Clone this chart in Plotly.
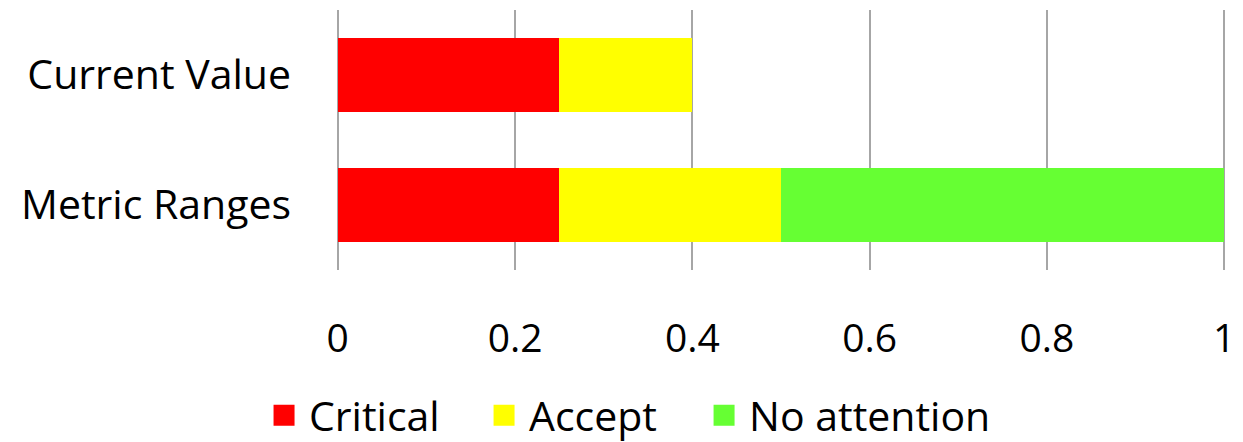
import plotly.graph_objects as go

categories = ["Metric Ranges", "Current Value"]
critical = [0.25, 0.25]
accept = [0.25, 0.15]
no_attention = [0.5, 0]
series_names = ["Critical", "Accept", "No attention"]
colors = ["#FF0000", "#FFFF00", "#66FF33"]
x_ticks = [0, 0.2, 0.4, 0.6, 0.8, 1]
x_tick_labels = ["0", "0.2", "0.4", "0.6", "0.8", "1"]

FONT = "Open Sans, DejaVu Sans, sans-serif"
legend_ids = ["legend", "legend2", "legend3"]
legend_x = [0.2084, 0.3854, 0.5624]

fig = go.Figure()
for name, vals, col, lid in zip(series_names, [critical, accept, no_attention], colors, legend_ids):
    fig.add_trace(go.Bar(y=categories, x=vals, name=name, orientation="h",
                         marker=dict(color=col, line=dict(width=0)),
                         showlegend=False))
    # legend entry with a larger square symbol
    fig.add_trace(go.Scatter(x=[None], y=[None], mode="markers", name=name,
                             marker=dict(symbol="square", size=24, color=col,
                                         line=dict(color=col, width=5)),
                             showlegend=True, legend=lid))

legend_common = dict(orientation="h", xref="container", yref="container",
                     xanchor="left", y=0.06, yanchor="middle",
                     font=dict(size=41), itemwidth=40, itemsizing="trace",
                     borderwidth=0, bgcolor="rgba(0,0,0,0)")

fig.update_layout(
    barmode="stack",
    bargap=0.43,
    width=1243, height=442,
    margin=dict(l=336, r=17, t=10, b=172),
    plot_bgcolor="white", paper_bgcolor="white",
    font=dict(family=FONT, color="black", size=32),
    showlegend=True,
    legend=dict(x=legend_x[0], **legend_common),
    legend2=dict(x=legend_x[1], **legend_common),
    legend3=dict(x=legend_x[2], **legend_common),
    xaxis=dict(range=[-0.002, 1.002], tickvals=x_ticks, ticktext=x_tick_labels,
               showgrid=True, gridcolor="#A6A6A6", gridwidth=1.5,
               zeroline=True, zerolinecolor="#A6A6A6", zerolinewidth=1.5,
               showline=False, ticks="", ticklabelstandoff=42,
               tickfont=dict(size=39), automargin=False),
    yaxis=dict(showgrid=False, zeroline=False, showline=False, ticks="",
               ticklabelstandoff=44, tickfont=dict(size=41), automargin=False),
)

fig.write_html("out.html", config={"displayModeBar": False},
               post_script="document.body.style.margin='0';")
